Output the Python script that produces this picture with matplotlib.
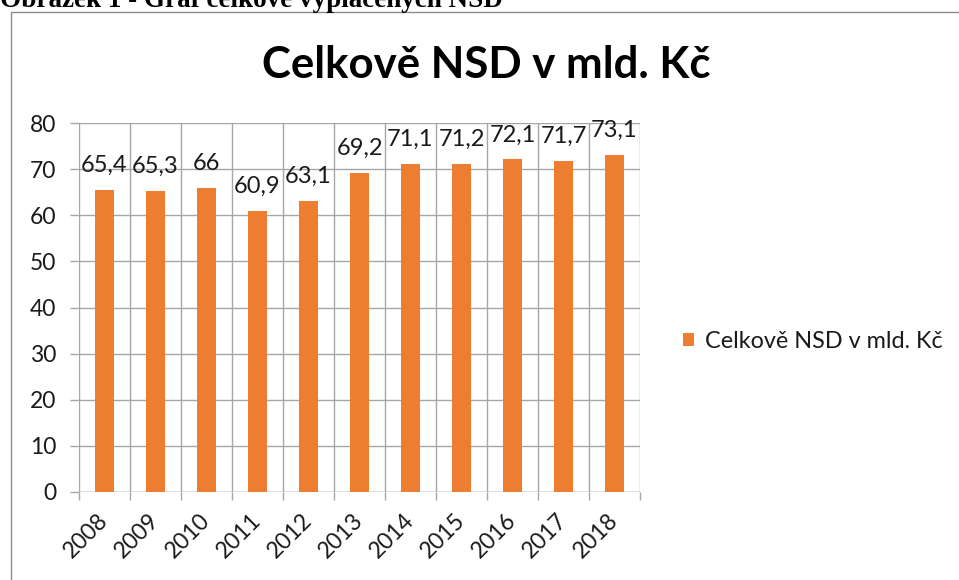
import matplotlib
matplotlib.use("Agg")
import matplotlib.pyplot as plt
from matplotlib.patches import Rectangle

years = ["2008", "2009", "2010", "2011", "2012", "2013", "2014", "2015", "2016", "2017", "2018"]
values = [65.4, 65.3, 66.0, 60.9, 63.1, 69.2, 71.1, 71.2, 72.1, 71.7, 73.1]
series_name = "Celkově NSD v mld. Kč"
chart_title = "Celkově NSD v mld. Kč"
caption = "Obrázek 1 - Graf celkově vyplácených NSD"

W, H = 959, 580
fig = plt.figure(figsize=(W / 100, H / 100), dpi=100)
plt.rcParams['font.family'] = ['Lato', 'DejaVu Sans']

orange = "#ED7D31"
grid = "#A6A6A6"
txt = "#1a1a1a"

# outer frame
fig.patches.append(Rectangle((10.5 / W, -0.01), 1.0, 1 - 12 / H + 0.01,
                             transform=fig.transFigure, fill=False,
                             edgecolor="#8c8c8c", linewidth=1.0))
# caption (cut at top, as in the source page)
fig.text(0.0, 1 - 7 / H, caption, family="Liberation Serif", fontweight="bold",
         fontsize=19.5, va="baseline", ha="left", color="black")

ax = fig.add_axes([79 / W, 88 / H, (640 - 79) / W, (492 - 123) / H])
x = list(range(len(years)))
bars = ax.bar(x, values, width=0.39, color=orange, zorder=3)

ax.set_xlim(-0.5, len(years) - 0.5)
ax.set_ylim(0, 80)
ax.set_yticks(range(0, 81, 10))
ax.set_xticks(x)
ax.set_xticklabels(years, rotation=45, ha="right", va="center",
                   rotation_mode="anchor", fontsize=16.5, color=txt)
ax.set_xticks([i - 0.5 for i in range(len(years) + 1)], minor=True)
ax.tick_params(axis="x", which="major", length=0, pad=18)
ax.tick_params(axis="x", which="minor", length=6, color=grid, width=1)
ax.tick_params(axis="y", length=6.5, color=grid, width=1, labelsize=16.5,
               labelcolor=txt, pad=10)
ax.grid(True, axis="y", color=grid, linewidth=1, zorder=0)
ax.grid(True, axis="x", which="minor", color=grid, linewidth=1, zorder=0)
ax.set_axisbelow(True)
for s in ax.spines.values():
    s.set_visible(False)
ax.axhline(0, color=grid, linewidth=1, zorder=1)

for xi, v in zip(x, values):
    lab = f"{v:g}".replace(".", ",")
    ax.annotate(lab, (xi, v), xytext=(0, 13), textcoords="offset points",
                ha="center", va="baseline", fontsize=17, color=txt, zorder=4)

fig.text(486 / W, 1 - 65 / H, chart_title, ha="center", va="center",
         fontsize=31.5, fontweight="bold", color="black")

leg = ax.legend([bars], [series_name], loc="center left",
                bbox_to_anchor=(683 / W, 1 - 341 / H), bbox_transform=fig.transFigure,
                frameon=False, fontsize=16.8, handlelength=0.47, handleheight=0.47,
                handletextpad=0.47, borderpad=0, borderaxespad=0)
for t in leg.get_texts():
    t.set_color(txt)

fig.savefig("out.png", dpi=100)
